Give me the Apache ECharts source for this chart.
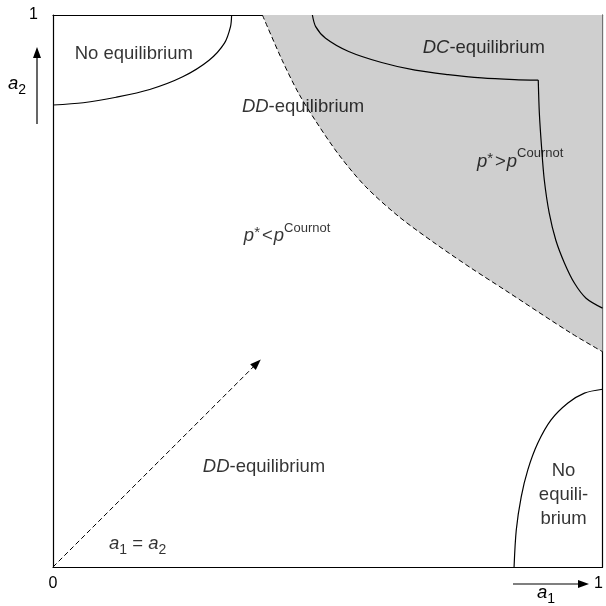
<!DOCTYPE html>
<html><head><meta charset="utf-8">
<script src="https://cdn.jsdelivr.net/npm/echarts@6/dist/echarts.min.js"></script>
<style>html,body{margin:0;padding:0;background:#fff}#c{width:606px;height:606px}</style>
</head><body><div id="c"></div>
<script>
// ---- data ----
const xTickLabels = ['0', '1'];
const yTickLabels = ['', '1'];
const noEqTopCurve = [[0,0.837],[0.055,0.841],[0.115,0.851],[0.176,0.865],[0.236,0.888],[0.284,0.918],[0.312,0.949],[0.323,0.979],[0.325,1]];
const ddBoundary = [[0.381,1],[0.417,0.918],[0.447,0.858],[0.478,0.808],[0.520,0.747],[0.568,0.690],[0.629,0.635],[0.697,0.585],[0.760,0.542],[0.822,0.502],[0.942,0.424],[1,0.390]];
const dcCurveTop = [[0.472,1],[0.478,0.979],[0.496,0.958],[0.538,0.934],[0.598,0.914],[0.659,0.900],[0.719,0.892],[0.780,0.886],[0.840,0.883],[0.883,0.882]];
const dcCurveSide = [[0.883,0.882],[0.885,0.822],[0.889,0.761],[0.894,0.701],[0.903,0.641],[0.915,0.592],[0.931,0.550],[0.949,0.514],[0.970,0.487],[1,0.469]];
const noEqBottomCurve = [[0.839,0],[0.843,0.067],[0.852,0.127],[0.864,0.176],[0.882,0.224],[0.906,0.266],[0.937,0.297],[0.967,0.315],[1,0.322]];
const diagonalArrow = [[0,0],[0.371,0.369]];
const regionLabels = [
  {pos:[0.147,0.931], text:'{t|No equilibrium}'},
  {pos:[0.455,0.835], text:'{i|DD}{t|-equilibrium}'},
  {pos:[0.784,0.942], text:'{i|DC}{t|-equilibrium}'},
  {pos:[0.850,0.735], text:'{i|p}{st|*}{op|>}{i|p}{sup|Cournot}'},
  {pos:[0.426,0.600], text:'{i|p}{st|*}{op|<}{i|p}{sup|Cournot}'},
  {pos:[0.384,0.183], text:'{i|DD}{t|-equilibrium}'},
  {pos:[0.154,0.043], text:'{i|a}{sub|1}{t| = }{i|a}{sub|2}'},
  {pos:[0.929,0.132], text:'{t|No}\n{t|equili-}\n{t|brium}'}
];

const FONT = "'Liberation Sans', Arial, Helvetica, sans-serif";
const FS = 18.5;
const rich = {
  i:{fontStyle:'italic', fontSize:FS, fontFamily:FONT, color:'#000', lineHeight:24, verticalAlign:'bottom'},
  t:{fontSize:FS, fontFamily:FONT, color:'#000', lineHeight:24, verticalAlign:'bottom'},
  op:{fontSize:FS, fontFamily:FONT, color:'#000', lineHeight:24, verticalAlign:'bottom', padding:[0,1,0,1]},
  st:{fontSize:15, fontFamily:FONT, color:'#000', lineHeight:24, verticalAlign:'bottom', padding:[0,1,5,0]},
  sup:{fontSize:13, fontFamily:FONT, color:'#000', lineHeight:24, verticalAlign:'top'},
  sub:{fontSize:14, fontFamily:FONT, color:'#000', lineHeight:18, verticalAlign:'bottom', padding:[0,0,-4,0]}
};

const chart = echarts.init(document.getElementById('c'), null, {renderer:'canvas'});
const solid = {color:'#000', width:1.2, type:'solid'};
function curve(d){
  return {type:'line', data:d, symbol:'none', smooth:0.3, lineStyle:solid, silent:true, z:3};
}
chart.setOption({
  animation:false,
  backgroundColor:'#fff',
  grid:{left:53, top:15, width:552, height:552, show:false},
  xAxis:[
    {type:'value', min:0, max:1, interval:1, position:'bottom',
     axisLine:{show:true, onZero:false, lineStyle:{color:'#000', width:1.2}},
     axisTick:{show:false}, splitLine:{show:false},
     axisLabel:{fontSize:16, fontFamily:FONT, color:'#000', margin:9,
       formatter:(v)=> v===1 ? '{r|'+xTickLabels[1]+'}' : xTickLabels[0],
       rich:{r:{fontSize:16, fontFamily:FONT, color:'#000', padding:[0,8,0,0]}}}},
    {type:'value', min:0, max:1, position:'top',
     axisLine:{show:true, onZero:false, lineStyle:{color:'#000', width:1.2}},
     axisTick:{show:false}, splitLine:{show:false}, axisLabel:{show:false}}
  ],
  yAxis:[
    {type:'value', min:0, max:1, interval:1, position:'left',
     axisLine:{show:true, onZero:false, lineStyle:{color:'#000', width:1.2}},
     axisTick:{show:false}, splitLine:{show:false},
     axisLabel:{fontSize:16, fontFamily:FONT, color:'#000', margin:15, padding:[10,0,0,0],
       formatter:(v)=> v===1 ? yTickLabels[1] : yTickLabels[0]}},
    {type:'value', min:0, max:1, position:'right',
     axisLine:{show:true, onZero:false, lineStyle:{color:'#000', width:1.2}},
     axisTick:{show:false}, splitLine:{show:false}, axisLabel:{show:false}}
  ],
  series:[
    {type:'line', data:ddBoundary, symbol:'none', smooth:0.3, silent:true, z:2,
     lineStyle:{color:'#000', width:1, type:[5,3]},
     areaStyle:{origin:'end', color:'#cfcfcf', opacity:1}},
    curve(noEqTopCurve),
    curve(dcCurveTop),
    curve(dcCurveSide),
    curve(noEqBottomCurve),
    {type:'line', data:[], symbol:'none', silent:true, z:3,
     markLine:{silent:true, symbol:['none','triangle'], symbolSize:[8,11], label:{show:false},
       lineStyle:{color:'#000', width:1, type:[5,3]},
       data:[[{coord:diagonalArrow[0]},{coord:diagonalArrow[1]}]]}},
    {type:'scatter', symbolSize:1, itemStyle:{color:'rgba(0,0,0,0)'}, silent:true, z:5,
     data: regionLabels.map(r=>({value:r.pos, label:{formatter:r.text}})),
     label:{show:true, position:'inside', offset:[0,-2], fontSize:FS, fontFamily:FONT, color:'#000', lineHeight:24, align:'center', verticalAlign:'middle', rich:rich}}
  ],
  graphic:[
    {type:'line', shape:{x1:37, y1:124, x2:37, y2:56}, style:{stroke:'#000', lineWidth:1.2}},
    {type:'polygon', shape:{points:[[37,47],[33,58],[41,58]]}, style:{fill:'#000'}},
    {type:'text', left:8, top:74, style:{text:'{i|a}{sub|2}', rich:rich}},
    {type:'line', shape:{x1:513, y1:584, x2:580, y2:584}, style:{stroke:'#000', lineWidth:1.2}},
    {type:'polygon', shape:{points:[[589,584],[578,580],[578,588]]}, style:{fill:'#000'}},
    {type:'text', left:537, top:583, style:{text:'{i|a}{sub|1}', rich:rich}}
  ]
});
</script></body></html>
